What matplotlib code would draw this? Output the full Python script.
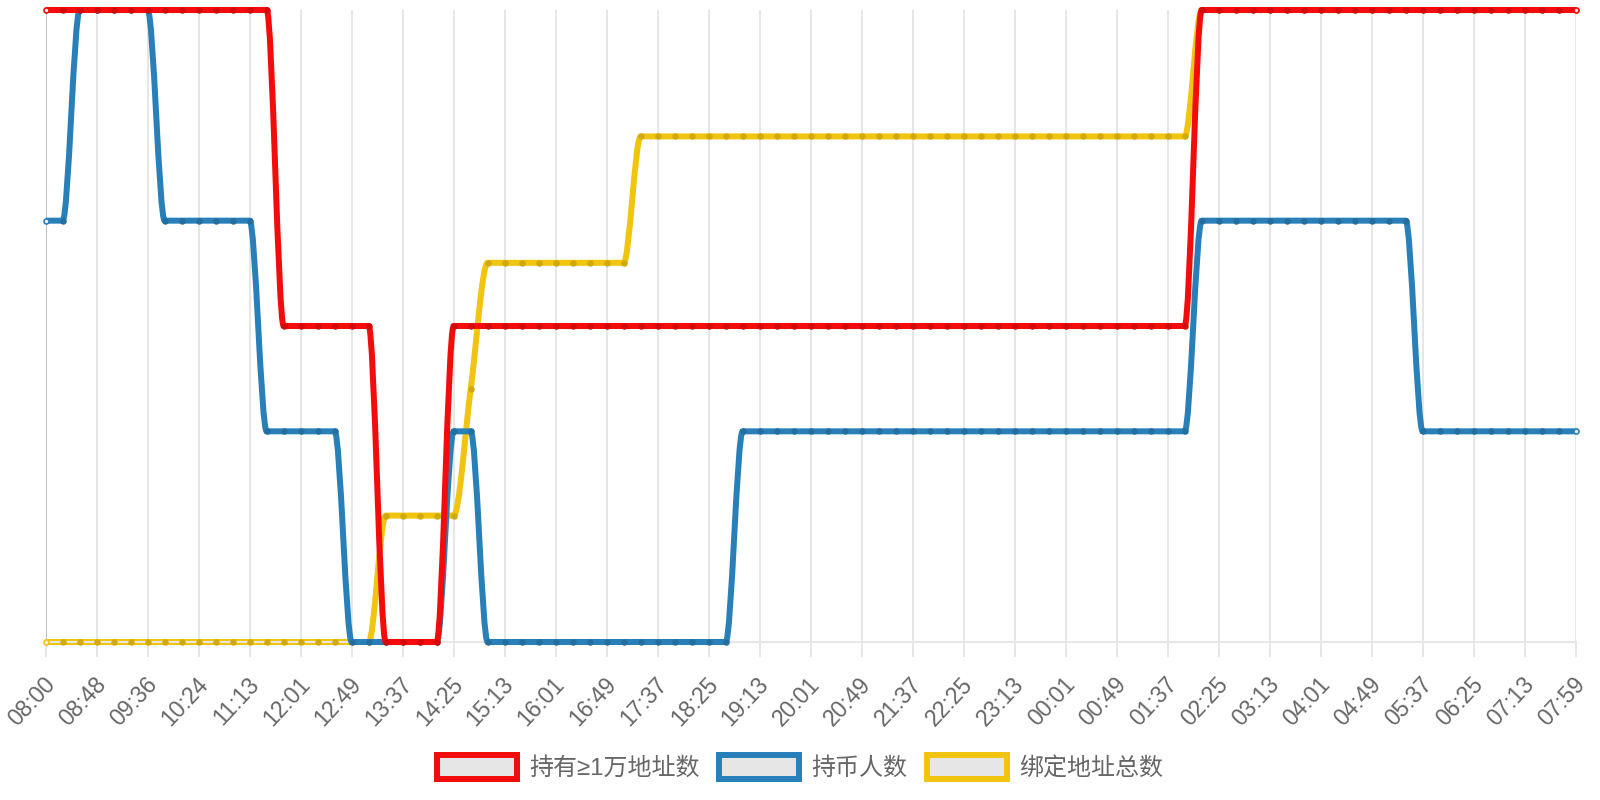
import numpy as np
import matplotlib
matplotlib.use("Agg")
import matplotlib.pyplot as plt
import matplotlib.transforms as mtransforms
from matplotlib.path import Path
from matplotlib.patches import PathPatch, Patch
from matplotlib.font_manager import FontProperties
from matplotlib.colors import to_rgb

# ---------------- data ----------------
tick_labels = ["08:00", "08:48", "09:36", "10:24", "11:13", "12:01", "12:49", "13:37",
               "14:25", "15:13", "16:01", "16:49", "17:37", "18:25", "19:13", "20:01",
               "20:49", "21:37", "22:25", "23:13", "00:01", "00:49", "01:37", "02:25",
               "03:13", "04:01", "04:49", "05:37", "06:25", "07:13", "07:59"]
label_every = 3  # one labelled time every third sample

series_names = ["持有≥1万地址数", "持币人数", "绑定地址总数"]

holders_10k = [7, 7, 7, 7, 7, 7, 7, 7, 7, 7, 7, 7, 7, 7,
               6, 6, 6, 6, 6, 6,
               5, 5, 5, 5,
               6, 6, 6, 6, 6, 6, 6, 6, 6, 6, 6, 6, 6, 6, 6, 6, 6, 6, 6, 6, 6, 6,
               6, 6, 6, 6, 6, 6, 6, 6, 6, 6, 6, 6, 6, 6, 6, 6, 6, 6, 6, 6, 6, 6,
               7, 7, 7, 7, 7, 7, 7, 7, 7, 7, 7, 7, 7, 7, 7, 7, 7, 7, 7, 7, 7, 7, 7]

holders = [35, 35,
           36, 36, 36, 36, 36,
           35, 35, 35, 35, 35, 35,
           34, 34, 34, 34, 34,
           33, 33, 33, 33, 33, 33,
           34, 34,
           33, 33, 33, 33, 33, 33, 33, 33, 33, 33, 33, 33, 33, 33, 33,
           34, 34, 34, 34, 34, 34, 34, 34, 34, 34, 34, 34, 34, 34, 34, 34, 34, 34,
           34, 34, 34, 34, 34, 34, 34, 34, 34,
           35, 35, 35, 35, 35, 35, 35, 35, 35, 35, 35, 35, 35,
           34, 34, 34, 34, 34, 34, 34, 34, 34, 34]

bound_total = [118, 118, 118, 118, 118, 118, 118, 118, 118, 118,
               118, 118, 118, 118, 118, 118, 118, 118, 118, 118,
               119, 119, 119, 119, 119,
               120,
               121, 121, 121, 121, 121, 121, 121, 121, 121,
               122, 122, 122, 122, 122, 122, 122, 122, 122, 122, 122,
               122, 122, 122, 122, 122, 122, 122, 122, 122, 122, 122,
               122, 122, 122, 122, 122, 122, 122, 122, 122, 122, 122,
               123, 123, 123, 123, 123, 123, 123, 123, 123, 123, 123, 123,
               123, 123, 123, 123, 123, 123, 123, 123, 123, 123, 123]

colors = ["#f40c0c", "#2980b9", "#f1c40f"]

# ---------------- figure ----------------
W, H = 1600, 800
fig = plt.figure(figsize=(W / 100, H / 100), dpi=100)
fig.patch.set_facecolor("white")
L, R, T, B = 45.7, 1575.7, 10, 642
rect = [L / W, 1 - B / H, (R - L) / W, (B - T) / H]

ax_y = fig.add_axes(rect)          # bottom layer (yellow)
ax_b = ax_y.twinx()                # middle layer (blue)
ax_r = ax_y.twinx()                # top layer (red)

n = len(holders_10k)
xs = np.arange(n)
ax_y.set_xlim(xs[0], xs[-1])

series = [(ax_r, holders_10k, colors[0]),
          (ax_b, holders, colors[1]),
          (ax_y, bound_total, colors[2])]
for ax, vals, c in series:
    ax.set_ylim(min(vals), max(vals))

# axis styling
grid_c = "#e6e6e6"
ax_y.set_xticks(xs[::label_every])
ax_y.set_xticklabels(tick_labels)
ax_y.set_yticks([])
ax_y.grid(axis="x", color=grid_c, lw=1.44)
ax_y.set_axisbelow(True)
for s in ("top", "left", "right"):
    ax_y.spines[s].set_visible(False)
ax_y.spines["bottom"].set_color(grid_c)
ax_y.spines["bottom"].set_linewidth(1.44)
ax_y.tick_params(axis="x", direction="out", length=10.8, width=1.44, color=grid_c,
                 pad=11.5, labelcolor="#666666")
ax_y.get_xgridlines()[0].set_color("#bfbfbf")
ax_y.xaxis.get_major_ticks()[0].tick1line.set_color("#bfbfbf")
shift = mtransforms.ScaledTranslation(-3 / 100, 0, fig.dpi_scale_trans)
for lab in ax_y.get_xticklabels():
    lab.set_fontfamily("Liberation Sans")
    lab.set_fontsize(16.5)
    lab.set_rotation(47)
    lab.set_ha("right")
    lab.set_va("top")
    lab.set_rotation_mode("anchor")
    lab.set_transform(lab.get_transform() + shift)

for ax in (ax_b, ax_r):
    ax.set_axis_off()


def monotone_curve(x, y):
    """Monotone cubic (Fritsch-Carlson) bezier path through the points."""
    x = np.asarray(x, float)
    y = np.asarray(y, float)
    m = len(x)
    dk = np.diff(y) / np.diff(x)
    mk = np.zeros(m)
    mk[0] = dk[0]
    mk[-1] = dk[-1]
    for i in range(1, m - 1):
        if np.sign(dk[i - 1]) != np.sign(dk[i]):
            mk[i] = 0.0
        else:
            mk[i] = (dk[i - 1] + dk[i]) / 2
    for i in range(m - 1):
        if dk[i] == 0:
            mk[i] = 0.0
            mk[i + 1] = 0.0
            continue
        a = mk[i] / dk[i]
        b = mk[i + 1] / dk[i]
        sq = a * a + b * b
        if sq <= 9:
            continue
        tau = 3 / np.sqrt(sq)
        mk[i] = a * tau * dk[i]
        mk[i + 1] = b * tau * dk[i]
    verts = [(x[0], y[0])]
    codes = [Path.MOVETO]
    for i in range(m - 1):
        d = (x[i + 1] - x[i]) / 3
        verts += [(x[i] + d, y[i] + d * mk[i]),
                  (x[i + 1] - d, y[i + 1] - d * mk[i + 1]),
                  (x[i + 1], y[i + 1])]
        codes += [Path.CURVE4] * 3
    return Path(verts, codes)


for ax, vals, c in series:
    v = np.array(vals, dtype=float)
    ax.add_patch(PathPatch(monotone_curve(xs, v), fill=False, edgecolor=c, lw=4.32,
                           capstyle="butt", joinstyle="miter", clip_on=False, zorder=2))
    dark = tuple(np.array(to_rgb(c)) * 0.86)
    ax.plot(xs[1:-1], v[1:-1], "o", ms=3.8, mfc=dark, mec=dark, mew=0.8,
            clip_on=False, zorder=3, ls="none")
    ax.plot(xs[[0, -1]], v[[0, -1]], "o", ms=3.6, mfc="#f2f2f2", mec=c, mew=1.2,
            clip_on=False, zorder=3, ls="none")

# legend
handles = [Patch(facecolor="#e6e6e6", edgecolor=c, linewidth=4.32) for c in colors]
fig.legend(handles, series_names, loc="center", bbox_to_anchor=(0.5, 1 - 767.7 / H),
           ncol=3, frameon=False, handlelength=80 / 24, handleheight=1.16,
           handletextpad=0.5, columnspacing=0.83, borderpad=0,
           prop=FontProperties(family=["Liberation Sans", "Noto Sans CJK SC"], size=17.28),
           labelcolor="#666666")

fig.savefig("out.png", dpi=100, facecolor="white")
